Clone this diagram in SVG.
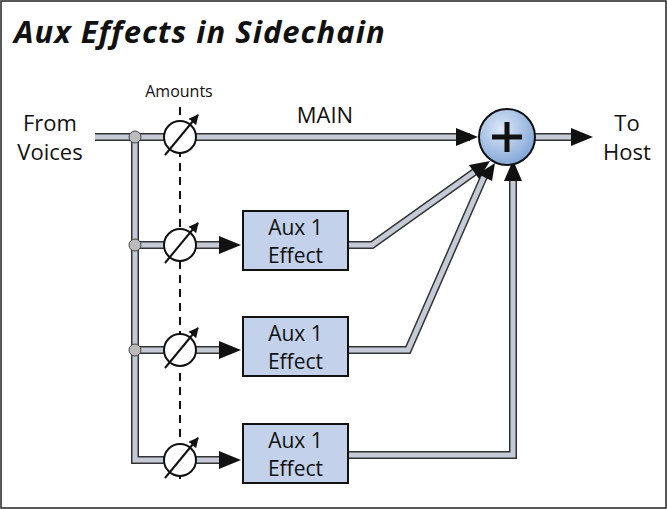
<svg xmlns="http://www.w3.org/2000/svg" width="667" height="509" viewBox="0 0 667 509">
<defs>
<marker id="ah" markerWidth="10" markerHeight="10" refX="9" refY="5" orient="auto" markerUnits="userSpaceOnUse" viewBox="0 0 10 10"><path d="M0,0 L10,5 L0,10 z" fill="#111"/></marker>
<radialGradient id="sg" cx="0.4" cy="0.35" r="0.7"><stop offset="0" stop-color="#dde8f8"/><stop offset="1" stop-color="#7ea3d6"/></radialGradient>
</defs>
<style>
.po{fill:none;stroke:#333;stroke-width:8;stroke-linejoin:miter}
.pi{fill:none;stroke:#c4cbd6;stroke-width:5;stroke-linejoin:miter}
.t{font-family:"Open Sans","Liberation Sans",sans-serif;fill:#111}
.box{fill:#c3d1ea;stroke:#111;stroke-width:2}
.pot{fill:#fff;stroke:#111;stroke-width:2}
</style>
<rect x="1" y="1" width="665" height="507" fill="#fff" stroke="#222" stroke-width="1.5"/>
<text x="14" y="43" font-family="'Open Sans','Liberation Sans',sans-serif" font-weight="bold" font-style="italic" font-size="31" letter-spacing="1" fill="#111">Aux Effects in Sidechain</text>
<g id="connectors">
<line x1="180" y1="107" x2="180" y2="480" stroke="#111" stroke-width="2" stroke-dasharray="8,6"/>
<g>
<path class="po" d="M95,137 H470 M135,137 V460 H228 M135,245 H228 M135,350 H228 M348,245 H372 L480,168 M348,350 H408 L486,172 M348,455 H513 V175 M535,137 H580"/>
<path class="pi" d="M95,137 H470 M135,137 V460 H228 M135,245 H228 M135,350 H228 M348,245 H372 L480,168 M348,350 H408 L486,172 M348,455 H513 V175 M535,137 H580"/>
</g>
<g fill="#111">
<path d="M478,137 l-22,-9 v18 z"/>
<path d="M593,137 l-22,-9 v18 z"/>
<path d="M241,245 l-22,-9 v18 z"/>
<path d="M241,350 l-22,-9 v18 z"/>
<path d="M241,460 l-22,-9 v18 z"/>
<path d="M490,161 l-21,4 l10,14 z"/>
<path d="M495,163 l-17,11 l14,7 z"/>
<path d="M513,160 l-9,21 h18 z"/>
</g>
<g fill="#bbb" stroke="#444" stroke-width="1">
<circle cx="135" cy="137" r="6"/><circle cx="135" cy="245" r="6"/><circle cx="135" cy="350" r="6"/>
</g>
</g>
<g id="pots">
<g><circle class="pot" cx="180" cy="137" r="16"/><line x1="165" y1="155" x2="198" y2="115" stroke="#111" stroke-width="2" marker-end="url(#ah)"/></g>
<g><circle class="pot" cx="180" cy="245" r="16"/><line x1="165" y1="263" x2="198" y2="223" stroke="#111" stroke-width="2" marker-end="url(#ah)"/></g>
<g><circle class="pot" cx="180" cy="350" r="16"/><line x1="165" y1="368" x2="198" y2="328" stroke="#111" stroke-width="2" marker-end="url(#ah)"/></g>
<g><circle class="pot" cx="180" cy="460" r="16"/><line x1="165" y1="478" x2="198" y2="438" stroke="#111" stroke-width="2" marker-end="url(#ah)"/></g>
</g>
<g id="box1"><rect class="box" x="243" y="211" width="105" height="59"/><text class="t" x="295.5" y="235" font-size="21" text-anchor="middle">Aux 1</text><text class="t" x="295.5" y="263" font-size="21" text-anchor="middle">Effect</text></g>
<g id="box2"><rect class="box" x="243" y="317" width="105" height="59"/><text class="t" x="295.5" y="341" font-size="21" text-anchor="middle">Aux 1</text><text class="t" x="295.5" y="369" font-size="21" text-anchor="middle">Effect</text></g>
<g id="box3"><rect class="box" x="243" y="424" width="105" height="59"/><text class="t" x="295.5" y="448" font-size="21" text-anchor="middle">Aux 1</text><text class="t" x="295.5" y="476" font-size="21" text-anchor="middle">Effect</text></g>
<g id="sum"><circle cx="507" cy="137" r="28" fill="url(#sg)" stroke="#111" stroke-width="2"/><path d="M507,122 V152 M492,137 H522" stroke="#111" stroke-width="5"/></g>
<g id="labels">
<text class="t" x="179" y="97" font-size="16" text-anchor="middle">Amounts</text>
<text class="t" x="325" y="123" font-size="22" text-anchor="middle">MAIN</text>
<text class="t" x="50" y="131" font-size="22" text-anchor="middle">From</text>
<text class="t" x="50" y="160" font-size="22" text-anchor="middle">Voices</text>
<text class="t" x="627" y="131" font-size="22" text-anchor="middle">To</text>
<text class="t" x="627" y="160" font-size="22" text-anchor="middle">Host</text>
</g>
</svg>
